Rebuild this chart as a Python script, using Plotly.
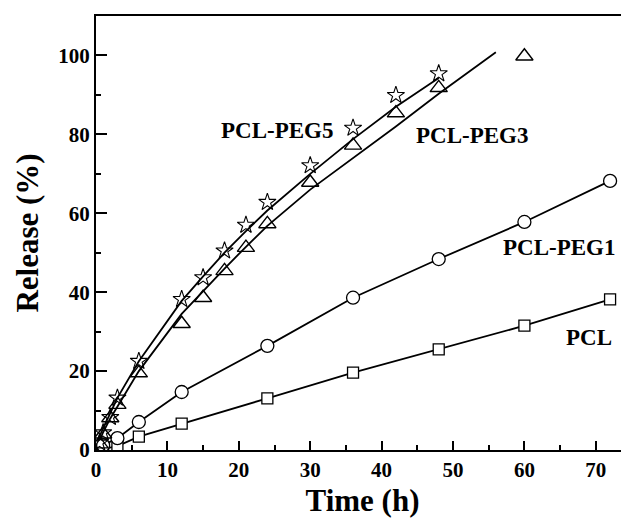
import plotly.graph_objects as go

# ---- data ----
t_pcl = [1, 3, 6, 12, 24, 36, 48, 60, 72]
pcl = [0.3, 1.0, 3.4, 6.7, 13.1, 19.6, 25.5, 31.5, 38.2]

t_peg1 = [1, 3, 6, 12, 24, 36, 48, 60, 72]
peg1 = [1.2, 3.0, 7.1, 14.7, 26.4, 38.6, 48.4, 57.8, 68.2]

t_peg3 = [0.5, 1, 2, 3, 6, 12, 15, 18, 21, 24, 30, 36, 42, 48, 60]
peg3 = [1.5, 4.0, 8.1, 11.5, 19.5, 32.0, 38.6, 45.4, 51.3, 57.3, 67.8, 77.2, 85.4, 91.8, 99.8]

t_peg5 = [0.5, 1, 2, 3, 6, 12, 15, 18, 21, 24, 30, 36, 42, 48]
peg5 = [1.8, 4.4, 8.3, 13.2, 22.5, 38.2, 43.7, 50.5, 57.0, 62.8, 72.1, 81.6, 89.9, 95.4]

# fitted curves as traced on the reference
t_fit3 = [0, 0.5, 1, 2, 3, 6, 12, 15, 18, 21, 24, 30, 36, 42, 48, 56]
fit3 = [0, 2.5, 4.5, 8.0, 11.0, 20.0, 34.5, 40.3, 46.0, 51.5, 56.8, 66.0, 74.0, 82.0, 90.3, 100.8]

t_fit5 = [0, 0.5, 1, 2, 3, 6, 12, 15, 18, 21, 24, 30, 36, 42, 48]
fit5 = [0, 3.5, 5.5, 9.5, 13.2, 22.5, 37.8, 44.0, 50.0, 55.5, 60.7, 70.0, 78.8, 87.0, 94.3]

labels = ["PCL-PEG5", "PCL-PEG3", "PCL-PEG1", "PCL"]

FONT = "Liberation Serif"
fig = go.Figure()

line = dict(color="black", width=1.8)
fig.add_trace(go.Scatter(x=t_fit3, y=fit3, mode="lines", line=line, hoverinfo="skip"))
fig.add_trace(go.Scatter(x=t_fit5, y=fit5, mode="lines", line=line, hoverinfo="skip"))
fig.add_trace(go.Scatter(x=t_pcl, y=pcl, mode="lines+markers", line=line,
                         marker=dict(symbol="square", size=11, color="white",
                                     line=dict(color="black", width=1.3))))
fig.add_trace(go.Scatter(x=t_peg1, y=peg1, mode="lines+markers", line=line,
                         marker=dict(symbol="circle", size=13, color="white",
                                     line=dict(color="black", width=1.3))))
fig.add_trace(go.Scatter(x=t_peg3, y=peg3, mode="markers",
                         marker=dict(symbol="triangle-up-open", size=15, color="black",
                                     line=dict(color="black", width=1.4))))
fig.add_trace(go.Scatter(x=t_peg5, y=peg5, mode="markers",
                         marker=dict(symbol="star-open", size=13, color="black",
                                     line=dict(color="black", width=1.1))))

ann_pos = [(25.3, 81.0), (52.6, 79.7), (64.9, 51.4), (69.0, 28.5)]
for lab, (ax, ay) in zip(labels, ann_pos):
    fig.add_annotation(x=ax, y=ay, xref="x", yref="y", text=lab, showarrow=False,
                       font=dict(family=FONT, size=23, color="black", weight="bold"))

# the page body adds an 8px offset, so the figure is 8px smaller and margins shifted
fig.update_layout(
    width=621, height=514,
    margin=dict(l=88, r=0, t=8, b=72),
    paper_bgcolor="white", plot_bgcolor="white",
    showlegend=False,
    font=dict(family=FONT, color="black"),
    xaxis=dict(range=[0, 74.65], tickvals=[0, 10, 20, 30, 40, 50, 60, 70],
               automargin=False,
               ticks="inside", ticklen=9, tickwidth=2, tickcolor="black",
               minor=dict(dtick=5, tick0=0, ticks="inside", ticklen=5, tickwidth=2, tickcolor="black"),
               showline=True, linewidth=2, linecolor="black", mirror=True,
               showgrid=False, zeroline=False,
               tickfont=dict(family=FONT, size=21, weight="bold"),
               title=dict(text="Time (h)", font=dict(family=FONT, size=31, weight="bold"), standoff=8)),
    yaxis=dict(range=[0, 110], tickvals=[0, 20, 40, 60, 80, 100],
               automargin=False,
               ticks="inside", ticklen=11, tickwidth=2, tickcolor="black",
               minor=dict(dtick=10, tick0=0, ticks="inside", ticklen=5, tickwidth=2, tickcolor="black"),
               showline=True, linewidth=2, linecolor="black", mirror=False,
               showgrid=False, zeroline=False,
               tickfont=dict(family=FONT, size=21, weight="bold"),
               title=dict(text="Release (%)", font=dict(family=FONT, size=31, weight="bold"), standoff=10)),
)

fig.write_html("out.html")
